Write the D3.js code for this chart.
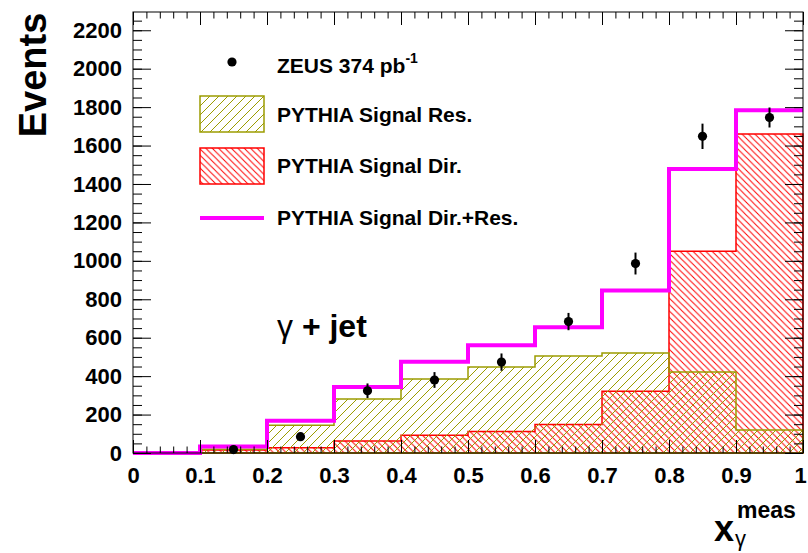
<!DOCTYPE html>
<html>
<head>
<meta charset="utf-8">
<script src="https://cdn.jsdelivr.net/npm/d3@7"></script>
<style>
  html, body { margin: 0; padding: 0; background: #fff; }
  svg { display: block; font-family: "Liberation Sans", Arial, Helvetica, sans-serif; }
</style>
</head>
<body>
<svg id="chart" width="808" height="553"></svg>
<script>
// ---- data ----
const binEdges = [0, 0.1, 0.2, 0.3, 0.4, 0.5, 0.6, 0.7, 0.8, 0.9, 1.0];
const resValues = [0, 20, 144, 281, 385, 447, 505, 520, 421, 120];
const dirValues = [0, 15, 27, 62, 92, 112, 148, 322, 1050, 1660];
const totalValues = [0, 34, 168, 343, 475, 561, 655, 846, 1478, 1784];
const dataX = [0.15, 0.25, 0.35, 0.45, 0.55, 0.65, 0.75, 0.85, 0.95];
const dataY = [18, 85, 324, 380, 473, 684, 986, 1648, 1746];
const dataErr = [8, 18, 38, 41, 45, 45, 57, 66, 52];
const xTickLabels = ["0", "0.1", "0.2", "0.3", "0.4", "0.5", "0.6", "0.7", "0.8", "0.9", "1"];
const yTickValues = [0, 200, 400, 600, 800, 1000, 1200, 1400, 1600, 1800, 2000, 2200];

// ---- layout ----
const svg = d3.select("#chart");
const x = d3.scaleLinear().domain([0, 1]).range([133, 803]);
const y = d3.scaleLinear().domain([0, 2295]).range([453, 12]);
const olive = "#9c9c00", red = "#ff0000", magenta = "#ff00ff";

svg.append("rect").attr("width", 808).attr("height", 553).attr("fill", "#fff");

const defs = svg.append("defs");
const pRes = defs.append("pattern").attr("id", "hatchRes").attr("patternUnits", "userSpaceOnUse")
  .attr("width", 9).attr("height", 9);
pRes.append("path").attr("d", "M0,9 L9,0 M-2,2 L2,-2 M7,11 L11,7")
  .attr("stroke", olive).attr("stroke-width", 1);
const pDir = defs.append("pattern").attr("id", "hatchDir").attr("patternUnits", "userSpaceOnUse")
  .attr("width", 6.4).attr("height", 6.4);
pDir.append("path").attr("d", "M0,0 L6.4,6.4 M-2,4.4 L2,8.4 M4.4,-2 L8.4,2")
  .attr("stroke", red).attr("stroke-width", 1);

function stepPts(vals) {
  const pts = [];
  vals.forEach((v, i) => {
    pts.push([x(binEdges[i]), y(v)]);
    pts.push([x(binEdges[i + 1]), y(v)]);
  });
  return pts;
}
function closedStep(vals) {
  const pts = stepPts(vals);
  return [[x(0), y(0)], ...pts, [x(1), y(0)]];
}
const line = d3.line();

// Dir histogram
svg.append("path").attr("d", line(closedStep(dirValues)) + "Z")
  .attr("fill", "url(#hatchDir)").attr("stroke", red).attr("stroke-width", 1.5);
// Res histogram
svg.append("path").attr("d", line(closedStep(resValues)) + "Z")
  .attr("fill", "url(#hatchRes)").attr("stroke", olive).attr("stroke-width", 1.5);
// Total
svg.append("path").attr("d", line(stepPts(totalValues)))
  .attr("fill", "none").attr("stroke", magenta).attr("stroke-width", 4);

// ---- axes ----
function styleAxis(g) {
  g.select(".domain").remove();
  g.selectAll(".tick line").attr("stroke", "#000").attr("stroke-width", 1);
  g.selectAll("text").attr("font-size", 22).attr("font-weight", "bold").attr("fill", "#000")
    .attr("font-family", "'Liberation Sans', Arial, sans-serif");
}
const yMinor = d3.range(0, 2295, 50);
const xMinor = d3.range(0, 1.0001, 0.02);
const xMajor = binEdges;

svg.append("g").attr("transform", `translate(${x(0)},0)`)
  .call(d3.axisLeft(y).tickValues(yMinor).tickSize(-9).tickFormat("")).call(styleAxis);
svg.append("g").attr("transform", `translate(${x(0)},0)`)
  .call(d3.axisLeft(y).tickValues(yTickValues).tickSize(-18).tickPadding(11).tickFormat(d3.format("d"))).call(styleAxis);
svg.append("g").attr("transform", `translate(${x(1)},0)`)
  .call(d3.axisRight(y).tickValues(yMinor).tickSize(-9).tickFormat("")).call(styleAxis);
svg.append("g").attr("transform", `translate(${x(1)},0)`)
  .call(d3.axisRight(y).tickValues(yTickValues).tickSize(-18).tickFormat("")).call(styleAxis);

svg.append("g").attr("transform", `translate(0,${y(0)})`)
  .call(d3.axisBottom(x).tickValues(xMinor).tickSize(-6.5).tickFormat("")).call(styleAxis);
const xAxG = svg.append("g").attr("transform", `translate(0,${y(0)})`)
  .call(d3.axisBottom(x).tickValues(xMajor).tickSize(-13).tickPadding(14)
    .tickFormat((d, i) => xTickLabels[i])).call(styleAxis);
xAxG.selectAll(".tick text").filter(d => d === 1).attr("dx", -3);
svg.append("g").attr("transform", `translate(0,${y(2295)})`)
  .call(d3.axisTop(x).tickValues(xMinor).tickSize(-6.5).tickFormat("")).call(styleAxis);
svg.append("g").attr("transform", `translate(0,${y(2295)})`)
  .call(d3.axisTop(x).tickValues(xMajor).tickSize(-13).tickFormat("")).call(styleAxis);

// frame
svg.append("rect").attr("x", x(0)).attr("y", y(2295)).attr("width", x(1) - x(0)).attr("height", y(0) - y(2295))
  .attr("fill", "none").attr("stroke", "#000").attr("stroke-width", 1);

// ---- data points ----
const pts = svg.append("g");
dataX.forEach((dx, i) => {
  pts.append("line").attr("x1", x(dx)).attr("x2", x(dx))
    .attr("y1", y(dataY[i] - dataErr[i])).attr("y2", y(dataY[i] + dataErr[i]))
    .attr("stroke", "#000").attr("stroke-width", 2);
  pts.append("circle").attr("cx", x(dx)).attr("cy", y(dataY[i])).attr("r", 4.6).attr("fill", "#000");
});

// ---- titles ----
svg.append("text").attr("transform", "translate(46,75) rotate(-90)")
  .attr("text-anchor", "middle").attr("font-size", 38).attr("font-weight", "bold").text("Events");

svg.append("text").attr("x", 734).attr("y", 541).attr("font-size", 36).attr("font-weight", "bold")
  .attr("text-anchor", "end").text("x");
svg.append("text").attr("x", 737).attr("y", 518).attr("font-size", 23).attr("font-weight", "bold").text("meas");
svg.append("text").attr("x", 735).attr("y", 546).attr("font-size", 22).text("γ");

// gamma + jet
const gj = svg.append("text").attr("x", 277).attr("y", 337).attr("font-size", 32);
gj.append("tspan").text("γ");
gj.append("tspan").attr("font-weight", "bold").text(" + jet");

// ---- legend ----
const lg = svg.append("g").attr("font-weight", "bold").attr("font-size", 21);
lg.append("circle").attr("cx", 232).attr("cy", 62).attr("r", 4.6).attr("fill", "#000");
const zt = lg.append("text").attr("x", 277).attr("y", 73);
zt.append("tspan").text("ZEUS 374 pb");
zt.append("tspan").attr("dy", -10).attr("font-size", 14).text("-1");

lg.append("rect").attr("x", 200).attr("y", 96).attr("width", 64).attr("height", 36)
  .attr("fill", "url(#hatchRes)").attr("stroke", olive).attr("stroke-width", 1.5);
lg.append("text").attr("x", 277).attr("y", 122).text("PYTHIA Signal Res.");
lg.append("rect").attr("x", 200).attr("y", 148).attr("width", 64).attr("height", 36)
  .attr("fill", "url(#hatchDir)").attr("stroke", red).attr("stroke-width", 1.5);
lg.append("text").attr("x", 277).attr("y", 173).text("PYTHIA Signal Dir.");
lg.append("line").attr("x1", 200).attr("x2", 264).attr("y1", 218).attr("y2", 218)
  .attr("stroke", magenta).attr("stroke-width", 4);
lg.append("text").attr("x", 277).attr("y", 225).text("PYTHIA Signal Dir.+Res.");
</script>
</body>
</html>
